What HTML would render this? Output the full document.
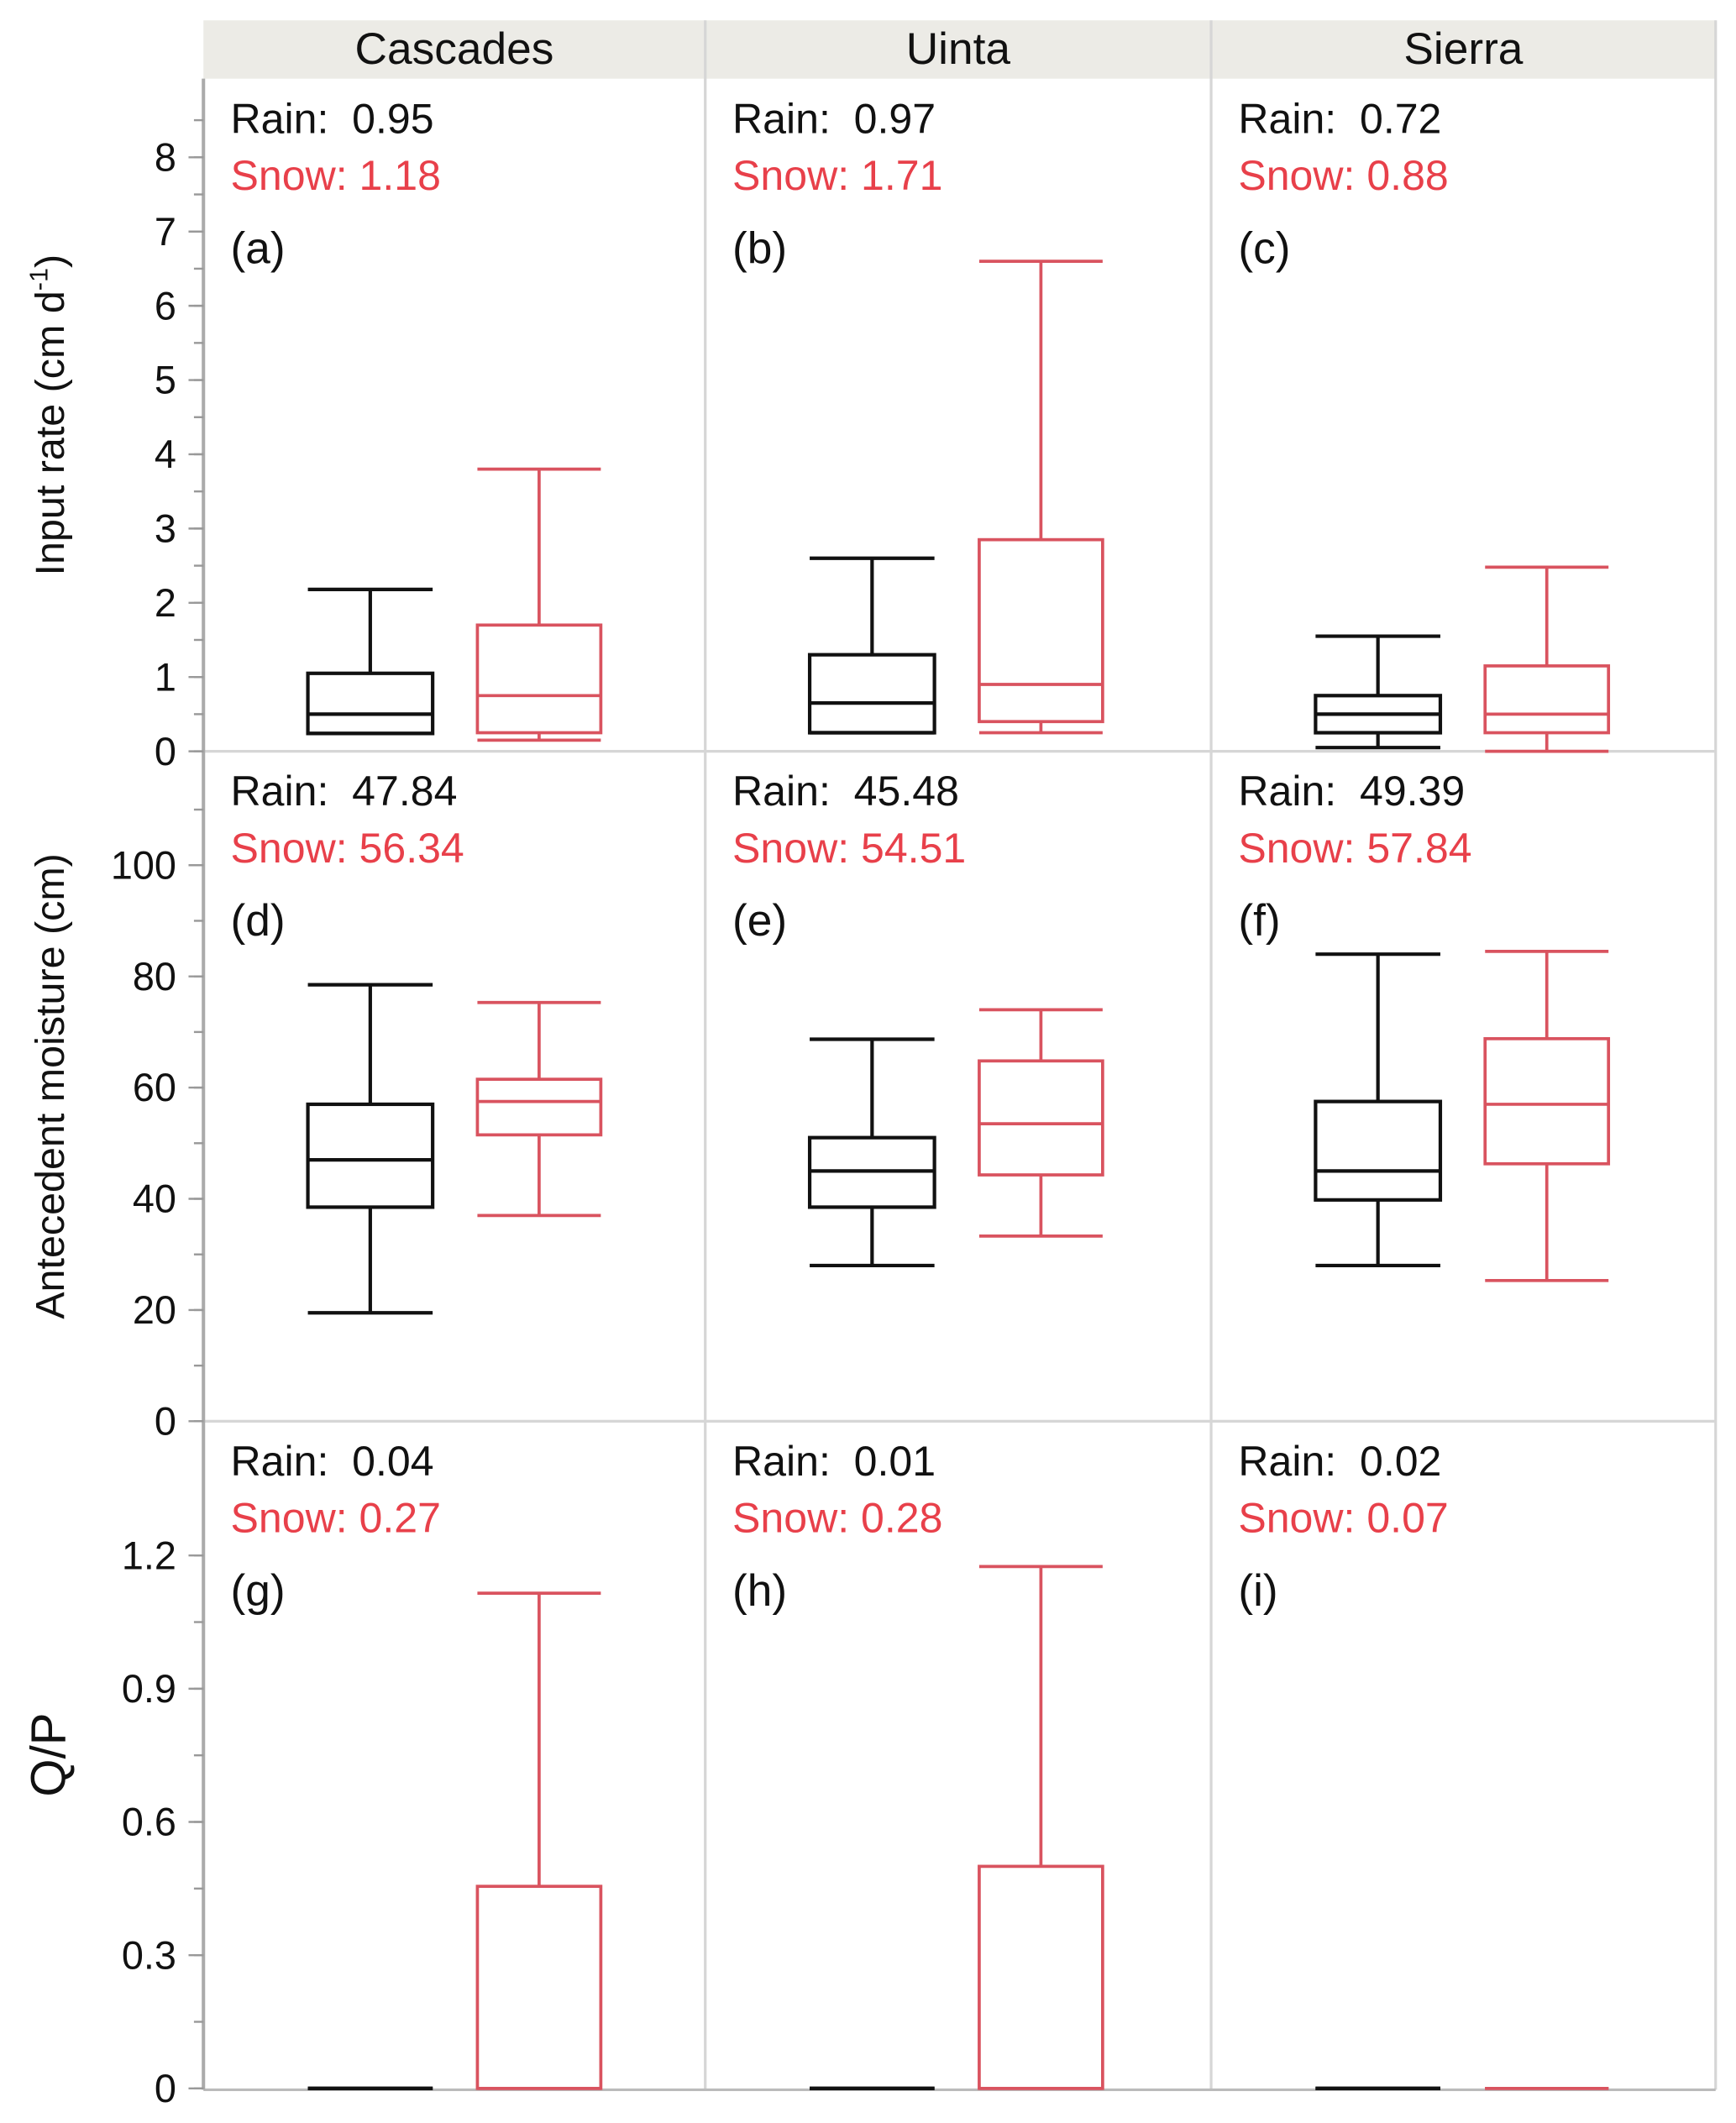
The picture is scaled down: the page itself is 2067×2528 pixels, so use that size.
<!DOCTYPE html>
<html><head><meta charset="utf-8">
<style>
html,body{margin:0;padding:0;background:#fff;}
svg{display:block;}
text{font-family:"Liberation Sans",sans-serif;}
</style></head>
<body>
<svg id="chart" width="2067" height="2528" viewBox="0 0 1280 1565.5" xmlns="http://www.w3.org/2000/svg">
<g id="frame"></g>
<g id="marks"></g>
</svg>
<script>
// ---- data ----
const regions = ["Cascades", "Uinta", "Sierra"];
const panelLetters = [["(a)","(b)","(c)"],["(d)","(e)","(f)"],["(g)","(h)","(i)"]];
const rainMeans = [["0.95","0.97","0.72"],["47.84","45.48","49.39"],["0.04","0.01","0.02"]];
const snowMeans = [["1.18","1.71","0.88"],["56.34","54.51","57.84"],["0.27","0.28","0.07"]];
const yTitles = ["Input rate (cm d", "Antecedent moisture (cm)", "Q/P"];
const tickVals1 = [0,1,2,3,4,5,6,7,8];
const tickVals2 = [0,20,40,60,80,100];
const tickVals3 = [0,0.3,0.6,0.9,1.2];
const tickLabels3 = ["0","0.3","0.6","0.9","1.2"];
// box stats: [lowWhisker, q1, median, q3, highWhisker] per region
const inputRain = [[0.24,0.24,0.5,1.05,2.18],[0.25,0.25,0.65,1.3,2.6],[0.05,0.25,0.5,0.75,1.55]];
const inputSnow = [[0.15,0.25,0.75,1.7,3.8],[0.25,0.4,0.9,2.85,6.6],[0,0.25,0.5,1.15,2.48]];
const moistRain = [[19.5,38.5,47,57,78.5],[28,38.5,45,51,68.7],[28,39.8,45,57.5,84]];
const moistSnow = [[37,51.5,57.5,61.5,75.3],[33.3,44.3,53.5,64.8,74],[25.3,46.3,57,68.8,84.5]];
const qpRain = [[0,0,0,0,0],[0,0,0,0,0],[0,0,0,0,0]];
const qpSnow = [[0,0,0,0.455,1.115],[0,0,0,0.5,1.175],[0,0,0,0,0]];

// ---- layout ----
const NS="http://www.w3.org/2000/svg";
const colX=[150,520,893,1265];
const rows=[{top:58,zero:554,max:8,minor:0.5,ticks:tickVals1,labels:tickVals1.map(String),rain:inputRain,snow:inputSnow},
            {top:554,zero:1048,max:100,minor:10,ticks:tickVals2,labels:tickVals2.map(String),rain:moistRain,snow:moistSnow},
            {top:1048,zero:1540,max:1.2,minor:0.15,ticks:tickVals3,labels:tickLabels3,rain:qpRain,snow:qpSnow}];
const topPx=[116,638,1147];
function yScale(r,v){const R=rows[r];return R.zero-v*(R.zero-topPx[r])/R.max;}
const boxOff=[[77,169],[202,293]];
const frame=document.getElementById('frame'), marks=document.getElementById('marks');
function mk(tag,attrs,parent,txt){const e=document.createElementNS(NS,tag);for(const k in attrs)e.setAttribute(k,attrs[k]);if(txt!==undefined)e.textContent=txt;parent.appendChild(e);return e;}

const hdr=mk('rect',{x:150,y:15,width:1115,height:43,fill:'#ecebe6'},frame);


regions.forEach((r,i)=>{
  const t=mk('text',{x:(colX[i]+colX[i+1])/2,y:47,'font-size':33,'text-anchor':'middle',fill:'#111'},frame,r);
  
  
});
[520,893,1265].forEach(x=>mk('line',{x1:x,y1:15,x2:x,y2:1541,stroke:'#d6d6d6','stroke-width':2},frame));
[554,1048].forEach(y=>mk('line',{x1:150,y1:y,x2:1265,y2:y,stroke:'#d6d6d6','stroke-width':2},frame));
mk('line',{x1:150,y1:1541,x2:1265,y2:1541,stroke:'#bbb','stroke-width':2},frame);
mk('line',{x1:150,y1:58,x2:150,y2:1541,stroke:'#aaa','stroke-width':2.5},frame);

rows.forEach((R,ri)=>{
  for(let v=0;v<=R.max*1.11+1e-9;v+=R.minor){
    const y=yScale(ri,v); if(y<R.top+4)continue;
    mk('line',{x1:143,y1:y,x2:150,y2:y,stroke:'#999','stroke-width':1.5},frame);
  }
  R.ticks.forEach((v,k)=>{
    const y=yScale(ri,v);
    mk('line',{x1:139,y1:y,x2:150,y2:y,stroke:'#999','stroke-width':1.5},frame);
    const t=mk('text',{x:130,y:y+10,'font-size':29,'text-anchor':'end',fill:'#111'},frame,R.labels[k]);
    
    
  });
  const cy=(R.top+R.zero)/2;
  const yt=mk('text',{x:0,y:0,'font-size':30,'text-anchor':'middle',fill:'#111',transform:`translate(47,${cy}) rotate(-90)`},frame);
  
  
  if(ri===0){yt.textContent=yTitles[0];mk('tspan',{dy:-12,'font-size':19},yt,'-1');mk('tspan',{dy:12},yt,')');}
  else if(ri===2){yt.setAttribute('font-size',36);yt.setAttribute('transform',`translate(48,${cy}) rotate(-90)`);yt.textContent=yTitles[2];}
  else yt.textContent=yTitles[1];

  regions.forEach((reg,ci)=>{
    const x0=colX[ci]+20, base=R.top+40;
    const a=mk('text',{x:x0,y:base,'font-size':31,fill:'#111'},frame,'Rain:  '+rainMeans[ri][ci]);
    
    
    a.style.whiteSpace='pre';
    const b=mk('text',{x:x0,y:base+42,'font-size':31,fill:'#e8404a'},frame,'Snow: '+snowMeans[ri][ci]);
    
    
    const c=mk('text',{x:x0,y:base+96,'font-size':33,fill:'#111'},frame,panelLetters[ri][ci]);
    
    
    [[R.rain[ci],'#111',0],[R.snow[ci],'#d9535f',1]].forEach(([s,col,si])=>{
      const xa=colX[ci]+boxOff[si][0], xb=colX[ci]+boxOff[si][1], xm=(xa+xb)/2;
      const g=mk('g',{stroke:col,'stroke-width':si?2.3:2.6,fill:'none'},marks);
      
      
      const [lo,q1,md,q3,hi]=s.map(v=>yScale(ri,v));
      mk('line',{x1:xm,y1:hi,x2:xm,y2:q3},g);
      mk('line',{x1:xm,y1:q1,x2:xm,y2:lo},g);
      mk('line',{x1:xa,y1:hi,x2:xb,y2:hi},g);
      mk('line',{x1:xa,y1:lo,x2:xb,y2:lo},g);
      mk('rect',{x:xa,y:q3,width:xb-xa,height:Math.max(0,q1-q3)},g);
      mk('line',{x1:xa,y1:md,x2:xb,y2:md},g);
    });
  });
});
</script>
</body></html>
